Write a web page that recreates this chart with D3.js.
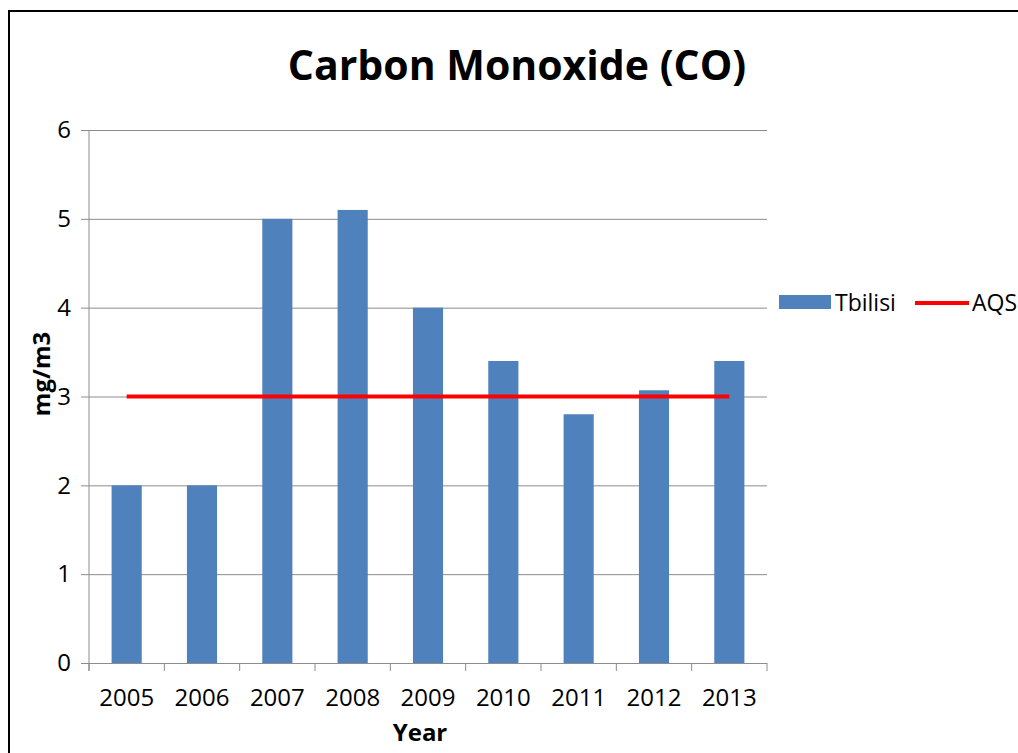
<!DOCTYPE html>
<html>
<head>
<meta charset="utf-8">
<script src="https://cdn.jsdelivr.net/npm/d3@7"></script>
<style>
  html, body { margin: 0; padding: 0; background: #fff; }
  svg { display: block; font-family: "Open Sans", sans-serif; }
</style>
</head>
<body>
<svg id="chart" width="1018" height="753"></svg>
<script>
const years = ["2005", "2006", "2007", "2008", "2009", "2010", "2011", "2012", "2013"];
const tbilisi = [2, 2, 5, 5.1, 4, 3.4, 2.8, 3.07, 3.4];
const aqs = [3, 3, 3, 3, 3, 3, 3, 3, 3];
const yTicks = [0, 1, 2, 3, 4, 5, 6];
const seriesNames = ["Tbilisi", "AQS"];
const titleText = "Carbon Monoxide (CO)";
const xTitle = "Year";
const yTitle = "mg/m3";

(function () {
const svg = d3.select("#chart");
const pLeft = 89, pRight = 767, pTop = 130, pBottom = 663;
const barColor = "#4F81BD", lineColor = "#FF0000", gridColor = "#8C8C8C";

// outer border
svg.append("rect").attr("x", 9).attr("y", 11).attr("width", 1100).attr("height", 900)
  .attr("fill", "none").attr("stroke", "#000").attr("stroke-width", 2);

const x = d3.scaleBand().domain(years).range([pLeft, pRight]).paddingInner(0.6).paddingOuter(0.3);
const y = d3.scaleLinear().domain([0, 6]).range([pBottom, pTop]);

// gridlines + y axis
const yAxis = d3.axisLeft(y).tickValues(yTicks).tickSize(-(pRight - pLeft)).tickPadding(18).tickFormat(d3.format("d"));
const gy = svg.append("g").attr("transform", `translate(${pLeft},0)`).call(yAxis);
gy.select(".domain").remove();
gy.selectAll(".tick line").attr("stroke", gridColor).attr("stroke-width", 1).attr("x1", -8);
gy.selectAll(".tick text").attr("font-size", 24).attr("font-family", "Open Sans").attr("fill", "#000");

// y axis line
svg.append("line").attr("x1", pLeft).attr("x2", pLeft).attr("y1", pTop).attr("y2", pBottom + 8)
  .attr("stroke", gridColor).attr("stroke-width", 1);

// x axis ticks at band boundaries
const boundaries = years.map(d => x(d) - x.step() * x.paddingOuter()).concat([pRight]);
svg.append("g").selectAll("line").data(boundaries).join("line")
  .attr("x1", d => d).attr("x2", d => d).attr("y1", pBottom).attr("y2", pBottom + 8)
  .attr("stroke", gridColor).attr("stroke-width", 1);

// bars
svg.append("g").selectAll("rect").data(years).join("rect")
  .attr("x", d => x(d)).attr("width", x.bandwidth())
  .attr("y", (d, i) => y(tbilisi[i])).attr("height", (d, i) => y(0) - y(tbilisi[i]))
  .attr("fill", barColor);

// x labels
svg.append("g").selectAll("text").data(years).join("text")
  .attr("x", d => x(d) + x.bandwidth() / 2).attr("y", 706)
  .attr("text-anchor", "middle").attr("font-size", 24).text(d => d);

// AQS line
const line = d3.line().x((d, i) => x(years[i]) + x.bandwidth() / 2).y(d => y(d));
svg.append("path").datum(aqs).attr("d", line).attr("fill", "none")
  .attr("stroke", lineColor).attr("stroke-width", 4);

// title
svg.append("text").attr("x", 517).attr("y", 80).attr("text-anchor", "middle")
  .attr("font-size", 41).attr("font-weight", "bold").text(titleText);

// axis titles
svg.append("text").attr("x", 420).attr("y", 741).attr("text-anchor", "middle")
  .attr("font-size", 24).attr("font-weight", "bold").text(xTitle);
svg.append("text").attr("transform", "translate(50,374) rotate(-90)").attr("text-anchor", "middle")
  .attr("font-size", 24).attr("font-weight", "bold").text(yTitle);

// legend
const lg = svg.append("g");
lg.append("rect").attr("x", 779).attr("y", 295).attr("width", 52).attr("height", 14).attr("fill", barColor);
lg.append("text").attr("x", 835).attr("y", 311).attr("font-size", 23).text(seriesNames[0]);
lg.append("line").attr("x1", 915).attr("x2", 969).attr("y1", 303).attr("y2", 303)
  .attr("stroke", lineColor).attr("stroke-width", 4);
lg.append("text").attr("x", 972).attr("y", 311).attr("font-size", 23).text(seriesNames[1]);
})();
</script>
</body>
</html>
